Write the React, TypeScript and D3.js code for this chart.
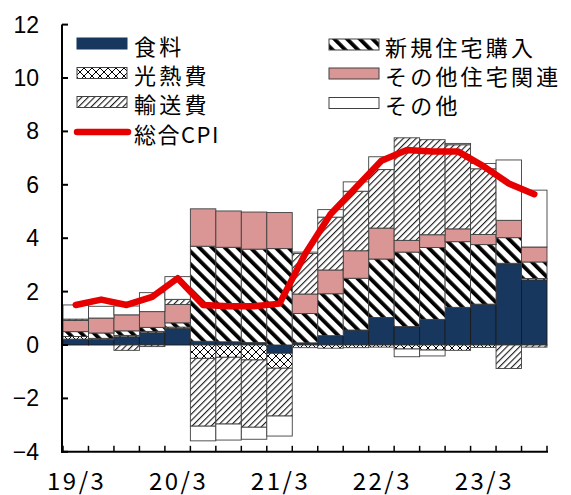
import React from 'react';
import * as d3 from 'd3';

const quarters = ['19/3','19/6','19/9','19/12','20/3','20/6','20/9','20/12','21/3','21/6','21/9','21/12','22/3','22/6','22/9','22/12','23/3','23/6','23/9'];
const tickLabels = ['19/3','20/3','21/3','22/3','23/3'];
const yTicks = [-4,-2,0,2,4,6,8,10,12];

const food = [0.22,0.21,0.31,0.46,0.62,0.14,0.12,0.09,-0.31,0.08,0.35,0.56,1.03,0.69,0.96,1.41,1.53,3.04,2.44];
const energy = [0.1,0.04,0.05,0.05,0.05,-0.5,-0.46,-0.56,-0.56,-0.1,-0.12,-0.1,-0.08,-0.15,-0.19,-0.2,-0.09,0.02,0.05];
const newHousing = [0.18,0.2,0.17,0.15,0.16,3.56,3.54,3.5,3.61,1.1,1.57,1.94,2.19,2.79,2.69,2.46,2.23,0.96,0.62];
const otherHousing = [0.42,0.56,0.6,0.59,0.69,1.4,1.36,1.39,1.35,0.73,0.89,1.03,1.16,0.44,0.48,0.48,0.38,0.65,0.56];
const transport = [0.05,0.0,-0.2,-0.06,0.19,-2.54,-2.5,-2.52,-1.79,1.52,1.98,2.23,2.19,3.84,3.56,3.15,2.46,-0.88,-0.08];
const other = [0.53,0.44,0.33,0.71,0.85,-0.55,-0.6,-0.45,-0.75,0.05,0.28,0.35,0.48,-0.29,-0.22,0.05,0.2,2.26,2.13];
const cpi = [1.5,1.7,1.5,1.8,2.5,1.5,1.45,1.45,1.55,3.4,4.9,5.9,6.9,7.3,7.25,7.25,6.7,6.05,5.65];

const keys = ['food','energy','newHousing','otherHousing','transport','other'];
const fills: Record<string,string> = {
  food: '#17375e',
  energy: 'url(#pEnergy)',
  newHousing: 'url(#pNew)',
  otherHousing: '#d99694',
  transport: 'url(#pTransport)',
  other: '#ffffff',
};

export default function App() {
  const W = 571, H = 495;
  const x = d3.scaleBand<number>().domain(quarters.map((_, i) => i)).range([63, 547]).padding(0);
  const y = d3.scaleLinear().domain([-4, 12]).range([451.8, 24.6]);
  const rows = quarters.map((q, i) => ({
    food: food[i], energy: energy[i], newHousing: newHousing[i],
    otherHousing: otherHousing[i], transport: transport[i], other: other[i],
  }));
  const series = d3.stack<any>().keys(keys).offset(d3.stackOffsetDiverging)(rows);
  const line = d3.line<number>()
    .x((_, i) => (x(i) as number) + x.bandwidth() / 2)
    .y(d => y(d));
  const bw = x.bandwidth();
  const boundaries = d3.range(quarters.length + 1).map(i => 63 + i * bw);

  const legendLeft = [
    { label: '食料', key: 'food', y: 43.5 },
    { label: '光熱費', key: 'energy', y: 73 },
    { label: '輸送費', key: 'transport', y: 102 },
  ];
  const legendRight = [
    { label: '新規住宅購入', key: 'newHousing', y: 44.5 },
    { label: 'その他住宅関連', key: 'otherHousing', y: 73.5 },
    { label: 'その他', key: 'other', y: 103 },
  ];
  const jp = '"Noto Sans CJK JP", sans-serif';

  return (
    <svg width={W} height={H} style={{ position: 'absolute', left: 0, top: 0, background: '#fff' }}>
      <defs>
        <pattern id="pEnergy" width="8" height="8" patternUnits="userSpaceOnUse">
          <rect width="8" height="8" fill="#fff" />
          <path d="M0,0L8,8M8,0L0,8" stroke="#000" strokeWidth="1" />
        </pattern>
        <pattern id="pTransport" width="4.5" height="4.5" patternUnits="userSpaceOnUse" patternTransform="rotate(45)">
          <rect width="4.5" height="4.5" fill="#fff" />
          <line x1="0.6" y1="0" x2="0.6" y2="4.5" stroke="#000" strokeWidth="1" />
        </pattern>
        <pattern id="pNew" width="9" height="9" patternUnits="userSpaceOnUse" patternTransform="rotate(-45)">
          <rect width="9" height="9" fill="#fff" />
          <rect x="0" y="0" width="3.8" height="9" fill="#000" />
        </pattern>
      </defs>

      {series.map(s => (
        <g key={s.key}>
          {s.map((d, i) => {
            const y0 = y(d[0]), y1 = y(d[1]);
            const top = Math.min(y0, y1), h = Math.abs(y0 - y1);
            if (h < 0.01) return null;
            return (
              <rect key={i} x={x(i)} y={top} width={bw} height={h}
                fill={fills[s.key]} stroke={s.key === 'food' ? '#1a1a1a' : '#404040'} strokeWidth={0.9} />
            );
          })}
        </g>
      ))}

      <path d={line(cpi) || ''} fill="none" stroke="#e60000" strokeWidth={6.5}
        strokeLinejoin="round" strokeLinecap="round" />

      {/* axes */}
      <line x1={62} y1={y(12)} x2={62} y2={y(-4) + 1} stroke="#000" strokeWidth={2} />
      <line x1={61} y1={y(-4)} x2={548} y2={y(-4)} stroke="#000" strokeWidth={2} />
      {yTicks.map(t => (
        <g key={t}>
          <line x1={62} x2={68} y1={y(t)} y2={y(t)} stroke="#000" strokeWidth={2} />
          <text x={39} y={y(t)} textAnchor="end" dominantBaseline="central"
            fontFamily='"Liberation Sans", Arial, sans-serif' fontSize={23} fill="#000">
            {t < 0 ? '\u2212' + Math.abs(t) : String(t)}
          </text>
        </g>
      ))}
      {boundaries.map((bx, i) => (
        <line key={i} x1={bx} x2={bx} y1={y(-4)} y2={y(-4) - 6} stroke="#000" strokeWidth={1.5} />
      ))}
      {tickLabels.map(lbl => {
        const i = quarters.indexOf(lbl);
        return (
          <text key={lbl} x={(x(i) as number) + bw / 2 + 1} y={479} textAnchor="middle" dominantBaseline="central"
            fontFamily={jp} fontSize={24} letterSpacing={2.5} fill="#000">{lbl}</text>
        );
      })}

      {/* legend */}
      {legendLeft.concat(legendRight).map((l, idx) => {
        const sx = idx < 3 ? 77 : 329;
        const tx = idx < 3 ? 134 : 385;
        return (
          <g key={l.key}>
            <rect x={sx} y={l.y - 5.5} width={50} height={11} fill={fills[l.key]}
              stroke={l.key === 'food' ? '#17375e' : '#404040'} strokeWidth={1} />
            <text x={tx} y={l.y + 1} dominantBaseline="central" fontFamily={jp} fontSize={22}
              letterSpacing={3.2} fill="#000">{l.label}</text>
          </g>
        );
      })}
      <line x1={77} x2={128} y1={132} y2={132} stroke="#e60000" strokeWidth={6.5} strokeLinecap="round" />
      <text x={134} y={132.5} dominantBaseline="central" fontFamily={jp} fontSize={22} letterSpacing={1.5} fill="#000">総合CPI</text>
    </svg>
  );
}
